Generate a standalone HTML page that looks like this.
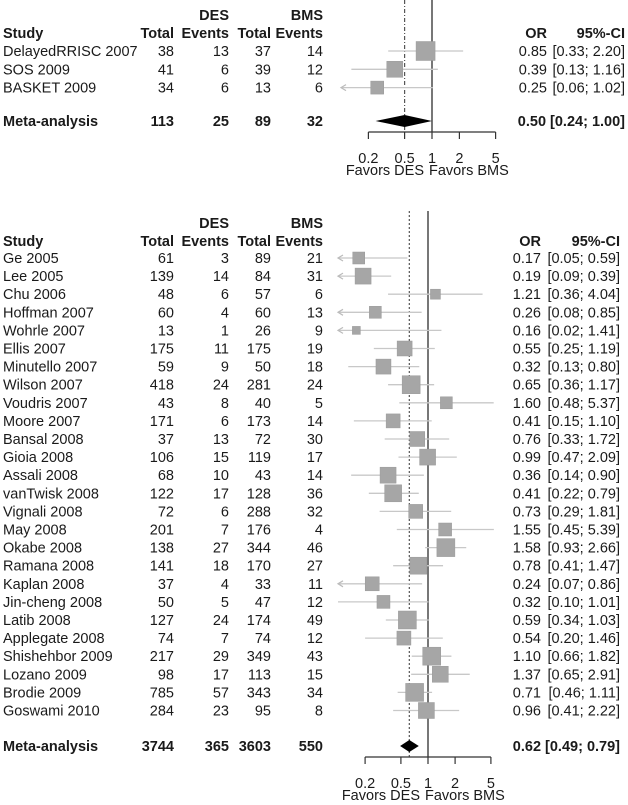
<!DOCTYPE html>
<html><head><meta charset="utf-8">
<style>
html,body{margin:0;padding:0;background:#fff;}
svg{display:block;font-family:"Liberation Sans",Arial,sans-serif;}
text{fill:#1a1a1a;font-size:14.5px;}
.b{font-weight:bold;}
</style></head>
<body>
<svg id="chart" width="628" height="805" viewBox="0 0 628 805" xmlns="http://www.w3.org/2000/svg"></svg>
<script>
// ---- Panel 1 data ----
const studies1 = ["DelayedRRISC 2007","SOS 2009","BASKET 2009"];
const desTotal1 = [38,41,34];
const desEvents1 = [13,6,6];
const bmsTotal1 = [37,39,13];
const bmsEvents1 = [14,12,6];
const or1 = [0.85,0.39,0.25];
const lo1 = [0.33,0.13,0.06];
const hi1 = [2.20,1.16,1.02];
const size1 = [19,16,13];
const meta1 = [113,25,89,32];
const metaOR1 = [0.50,0.24,1.00];
// ---- Panel 2 data ----
const studies2 = ["Ge 2005","Lee 2005","Chu 2006","Hoffman 2007","Wohrle 2007","Ellis 2007","Minutello 2007","Wilson 2007","Voudris 2007","Moore 2007","Bansal 2008","Gioia 2008","Assali 2008","vanTwisk 2008","Vignali 2008","May 2008","Okabe 2008","Ramana 2008","Kaplan 2008","Jin-cheng 2008","Latib 2008","Applegate 2008","Shishehbor 2009","Lozano 2009","Brodie 2009","Goswami 2010"];
const desTotal2 = [61,139,48,60,13,175,59,418,43,171,37,106,68,122,72,201,138,141,37,50,127,74,217,98,785,284];
const desEvents2 = [3,14,6,4,1,11,9,24,8,6,13,15,10,17,6,7,27,18,4,5,24,7,29,17,57,23];
const bmsTotal2 = [89,84,57,60,26,175,50,281,40,173,72,119,43,128,288,176,344,170,33,47,174,74,349,113,343,95];
const bmsEvents2 = [21,31,6,13,9,19,18,24,5,14,30,17,14,36,32,4,46,27,11,12,49,12,43,15,34,8];
const or2 = [0.17,0.19,1.21,0.26,0.16,0.55,0.32,0.65,1.60,0.41,0.76,0.99,0.36,0.41,0.73,1.55,1.58,0.78,0.24,0.32,0.59,0.54,1.10,1.37,0.71,0.96];
const lo2 = [0.05,0.09,0.36,0.08,0.02,0.25,0.13,0.36,0.48,0.15,0.33,0.47,0.14,0.22,0.29,0.45,0.93,0.41,0.07,0.10,0.34,0.20,0.66,0.65,0.46,0.41];
const hi2 = [0.59,0.39,4.04,0.85,1.41,1.19,0.80,1.17,5.37,1.10,1.72,2.09,0.90,0.79,1.81,5.39,2.66,1.47,0.86,1.01,1.03,1.46,1.82,2.91,1.11,2.22];
const size2 = [12,16,10,12,8,15,15,18,12,14,15,16,16,17,14,13,18,17,14,13,18,14,18,16,18,16];
const meta2 = [3744,365,3603,550];
const metaOR2 = [0.62,0.49,0.79];
const ticks = [0.2,0.5,1,2,5];
const tickLabels = ["0.2","0.5","1","2","5"];

const NS="http://www.w3.org/2000/svg";
const svg=document.getElementById('chart');
function mk(tag,attrs,parent){const e=document.createElementNS(NS,tag);for(const k in attrs)e.setAttribute(k,attrs[k]);(parent||svg).appendChild(e);return e;}
function txt(x,y,s,anchor,cls,parent){const t=mk('text',{x:x,y:y+5,'text-anchor':anchor||'start'},parent);if(cls)t.setAttribute('class',cls);t.textContent=s;return t;}
const f2=v=>v.toFixed(2);

function panel(P){
  const g=mk('g',{});
  
  
  const X=v=>P.x1+P.ppd*Math.log10(v);
  const cols=[174,229,271,323];
  let h;
  h=txt(229,P.hy1,'DES','end','b',g);
  h=txt(323,P.hy1,'BMS','end','b',g);
  h=txt(3,P.hy2,'Study','start','b',g);
  ['Total','Events','Total','Events'].forEach((s,i)=>{const t=txt(cols[i],P.hy2,s,'end','b',g);});
  h=txt(P.orR,P.hy2,'OR','end','b',g);
  h=txt(P.ciR,P.hy2,'95%-CI','end','b',g);
  const ln=mk('line',{x1:X(P.metaOR[0]),x2:X(P.metaOR[0]),y1:P.ly0,y2:P.axisY,stroke:'#555','stroke-width':1.2,'stroke-dasharray':P.dash},g);
  
  const nl=mk('line',{x1:X(1),x2:X(1),y1:P.ly0,y2:P.axisY,stroke:'#555','stroke-width':1.6},g);
  
  P.studies.forEach((s,i)=>{
    const y=P.ry0+i*P.step;
    const r=mk('g',{},g);
    
    
    txt(3,y,s,'start',null,r);
    [P.dt[i],P.de[i],P.bt[i],P.be[i]].forEach((v,k)=>txt(cols[k],y,String(v),'end',null,r));
    const lo=Math.max(P.lo[i],0.1);
    const x0=X(lo),x1=X(P.hi[i]);
    const ci=mk('line',{x1:x0,x2:x1,y1:y,y2:y,stroke:'#c8c8c8','stroke-width':1.3},r);
    
    
    if(P.lo[i]<0.1){
      const a=mk('polyline',{points:`${x0+5},${y-3} ${x0},${y} ${x0+5},${y+3}`,fill:'none',stroke:'#bbb','stroke-width':1.2},r);
      
      
    }
    const sz=P.size[i];
    const sq=mk('rect',{x:X(P.or[i])-sz/2,y:y-sz/2,width:sz,height:sz,fill:'#a6a6a6',stroke:'#999','stroke-width':0.5},r);
    
    
    txt(P.orR,y,f2(P.or[i]),'end',null,r);
    txt(P.ciR,y,'['+f2(P.lo[i])+'; '+f2(P.hi[i])+']','end',null,r);
  });
  const my=P.my;
  const mr=mk('g',{},g);
  
  
  txt(3,my,'Meta-analysis','start','b',mr);
  P.meta.forEach((v,k)=>txt(cols[k],my,String(v),'end','b',mr));
  const d=mk('polygon',{points:`${X(P.metaOR[1])},${my} ${X(P.metaOR[0])},${my-6} ${X(P.metaOR[2])},${my} ${X(P.metaOR[0])},${my+6}`,fill:'#000'},mr);
  
  
  txt(P.ciR,my,f2(P.metaOR[0])+' ['+f2(P.metaOR[1])+'; '+f2(P.metaOR[2])+']','end','b',mr);
  const ax=mk('g',{},g);
  
  
  mk('line',{x1:X(ticks[0]),x2:X(ticks[ticks.length-1]),y1:P.axisY,y2:P.axisY,stroke:'#333','stroke-width':1.2},ax);
  ticks.forEach((t,i)=>{
    mk('line',{x1:X(t),x2:X(t),y1:P.axisY,y2:P.axisY+7,stroke:'#333','stroke-width':1.2},ax);
    const tl=txt(X(t),P.axisY+26,tickLabels[i],'middle',null,ax);
    
    
  });
  const fd=txt(X(1)-8,P.axisY+38,'Favors DES','end',null,ax);
  
  
  const fb=txt(X(1)-3,P.axisY+38,'Favors BMS','start',null,ax);
  
  
}

panel({name:'subgroup-panel',x1:432,ppd:91,hy1:15,hy2:33,ry0:51,step:18.3,my:121,ly0:0,axisY:132,orR:547,ciR:625,dash:'4,2,1,2',
  studies:studies1,dt:desTotal1,de:desEvents1,bt:bmsTotal1,be:bmsEvents1,or:or1,lo:lo1,hi:hi1,size:size1,meta:meta1,metaOR:metaOR1});
panel({name:'all-studies-panel',x1:428,ppd:90,hy1:223,hy2:241,ry0:258,step:18.1,my:746,ly0:211,axisY:757,orR:541,ciR:620,dash:'2,2',
  studies:studies2,dt:desTotal2,de:desEvents2,bt:bmsTotal2,be:bmsEvents2,or:or2,lo:lo2,hi:hi2,size:size2,meta:meta2,metaOR:metaOR2});
</script>
</body></html>
